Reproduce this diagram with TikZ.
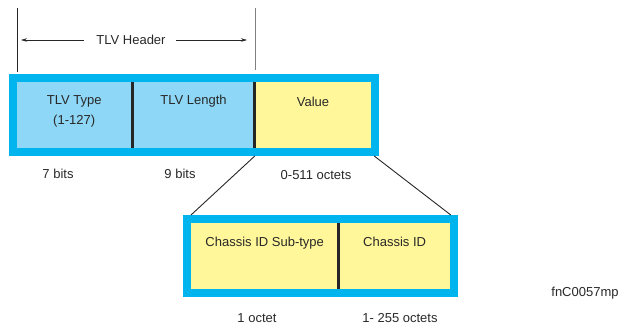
\documentclass[tikz,border=0pt]{standalone}
\usepackage{fontspec}
\setmainfont{Liberation Sans}
\usetikzlibrary{arrows.meta, positioning}
\definecolor{tlvblue}{RGB}{0,180,237}
\definecolor{tlvcyan}{RGB}{142,215,246}
\definecolor{tlvyellow}{RGB}{255,247,153}
\definecolor{tlvtext}{RGB}{40,40,40}

\begin{document}
\begin{tikzpicture}[x=1pt, y=-1pt,
        node distance=0pt,
        frame/.style={rectangle, draw=tlvblue, line width=8pt, inner sep=0pt},
        field/.style={rectangle, inner sep=0pt, minimum height=66pt},
        txt/.style={inner sep=0pt, text=tlvtext, align=center,
                    font=\fontsize{13}{20}\selectfont},
        divider/.style={line width=3pt, black!85},
        link/.style={line width=0.9pt, black!85},
        arr/.style={-{Stealth[length=6pt, width=3.5pt]}, line width=0.6pt, black!85}
    ]
        \useasboundingbox (0,0) rectangle (623,328);
        % TLV header span
        \coordinate (hl) at (17,8);
        \coordinate (hr) at (255,8);
        \draw[line width=0.8pt, black!85] (hl) -- ++(0,64);
        \draw[line width=0.8pt, black!50] (hr) -- ++(0,62);
        \node[txt] (hdr) at (131,40) {TLV Header};
        \draw[arr] ([xshift=-12pt]hdr.west) -- ([xshift=4pt]hdr.west -| hl);
        \draw[arr] ([xshift=10pt]hdr.east) -- ([xshift=-8pt]hdr.east -| hr);
        % TLV fields
        \node[field, fill=tlvcyan, minimum width=116pt, anchor=north west] (type) at (16,82) {};
        \node[field, fill=tlvcyan, minimum width=122pt, right=of type] (length) {};
        \node[field, fill=tlvyellow, minimum width=116pt, right=of length] (value) {};
        \node[frame, minimum width=362.5pt, minimum height=74pt] (tlv) at (193.75,115) {};
        \draw[divider] (type.north east) -- (type.south east);
        \draw[divider] (length.north east) -- (length.south east);
        \node[txt, below=13pt of type.north] {TLV Type\\(1-127)};
        \node[txt, below=13pt of length.north] {TLV Length};
        \node[txt, below=15pt of value.north] {Value};
        \node[txt] (bits7) at (58,174) {7 bits};
        \node[txt] (bits9) at (180,174) {9 bits};
        \node[txt] (octval) at (316,175) {0-511 octets};
        % chassis ID expansion
        \node[field, fill=tlvyellow, minimum width=147pt, anchor=north west] (sub) at (191,223) {};
        \node[field, fill=tlvyellow, minimum width=112pt, right=of sub] (chassis) {};
        \node[frame, minimum width=267pt, minimum height=74pt] (cid) at (320.5,256) {};
        \draw[divider] (sub.north east) -- (sub.south east);
        \node[txt, below=14pt of sub.north] {Chassis ID Sub-type};
        \node[txt, below=14pt of chassis.north] {Chassis ID};
        \node[txt] (oct1) at (257,318) {1 octet};
        \node[txt] (oct255) at (400,318) {1- 255 octets};
        \draw[link] (value.west |- tlv.south) -- (sub.west |- cid.north);
        \draw[link] ([xshift=3pt]value.east |- tlv.south) -- (chassis.east |- cid.north);
        \node[txt] (fig) at (585,293) {fnC0057mp};
    \end{tikzpicture}
\end{document}
